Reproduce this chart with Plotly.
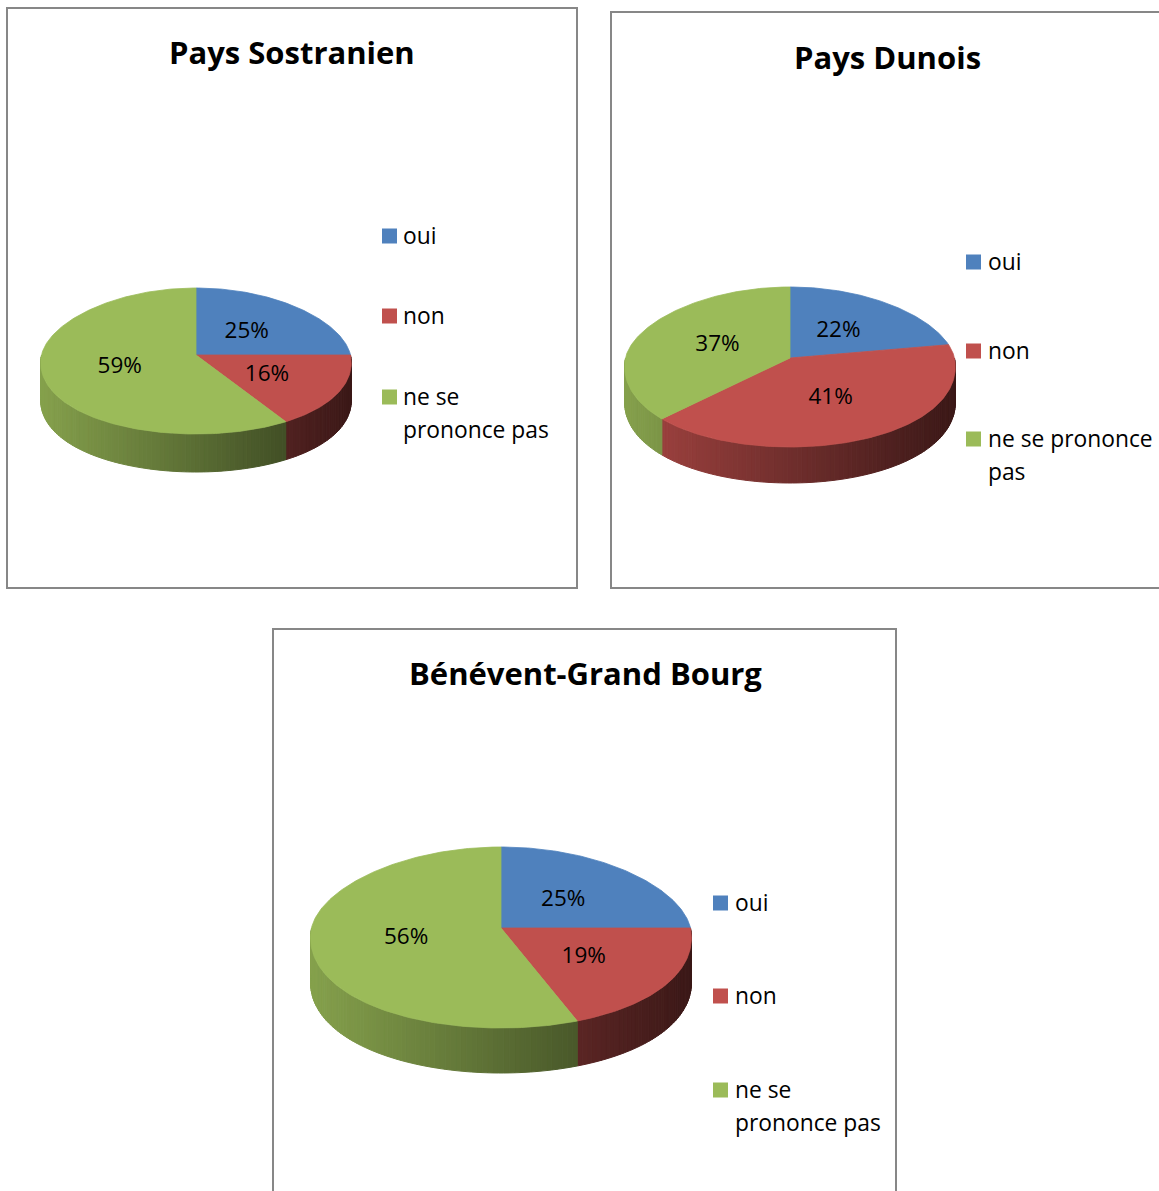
import numpy as np
import plotly.graph_objects as go

# ---------------- data ----------------
categories = ["oui", "non", "ne se prononce pas"]
titles = ["Pays Sostranien", "Pays Dunois", "Bénévent-Grand Bourg"]
vals_sostranien = [25, 16, 59]
vals_dunois = [22, 41, 37]
vals_benevent = [25, 19, 56]

colors = ["#4F81BD", "#C0504D", "#9BBB59"]

W, H = 1159, 1191
FONT = "Open Sans"
PERSP = 0.1

# ---------------- layout of each panel (pixels) ----------------
panels = [
    dict(values=vals_sostranien, title=titles[0],
         cx=196, cy=355, rx=154.5, ryt=67, ryb=79, depth=38,
         box=(7, 8, 577, 588), title_xy=(292, 52),
         leg_sq_x=389.5, leg_tx=401, leg_y=[236, 316, 397],
         wrap=[["oui"], ["non"], ["ne se", "prononce pas"]]),
    dict(values=vals_dunois, title=titles[1],
         cx=790, cy=358, rx=164.5, ryt=71, ryb=89, depth=36,
         box=(611, 12, 1170, 588), title_xy=(887, 57),
         leg_sq_x=973.5, leg_tx=986, leg_y=[262, 351, 439],
         wrap=[["oui"], ["non"], ["ne se prononce", "pas"]]),
    dict(values=vals_benevent, title=titles[2],
         cx=501, cy=928, rx=189.5, ryt=81, ryb=100, depth=45,
         box=(273, 629, 896, 1210), title_xy=(585, 673),
         leg_sq_x=720.5, leg_tx=733, leg_y=[903, 996, 1090],
         wrap=[["oui"], ["non"], ["ne se", "prononce pas"]]),
]

LINE_GAP = 33


def hex2rgb(h):
    h = h.lstrip("#")
    return tuple(int(h[i:i + 2], 16) for i in (0, 2, 4))


def ell(p, t_deg, r=1.0):
    t = np.radians(np.asarray(t_deg, dtype=float))
    s = np.sin(t)
    ry = np.where(s >= 0, p["ryt"], p["ryb"])
    x = p["cx"] + r * p["rx"] * np.cos(t) * (1 - PERSP * s)
    y = p["cy"] - r * ry * s
    return x, y


fig = go.Figure()
shapes = []
annotations = []

for p in panels:
    vals = np.array(p["values"], dtype=float)
    frac = vals / vals.sum()
    cum = np.concatenate([[0], np.cumsum(frac)])
    starts = 90 - 360 * cum[:-1]
    ends = 90 - 360 * cum[1:]

    # ---- side (front) strips with gradient ----
    left = p["cx"] - p["rx"]
    for i, (t0, t1) in enumerate(zip(starts, ends)):
        a = min(t0, 0.0)
        b = max(t1, -180.0)
        if a <= b:
            continue
        n = int(np.ceil((a - b) / 1.5)) + 1
        ts = np.linspace(a, b, n)
        base = np.array(hex2rgb(colors[i]), dtype=float)
        for k in range(n - 1):
            xa, ya = ell(p, ts[k])
            xb, yb = ell(p, ts[k + 1])
            u = ((xa + xb) / 2 - left) / (2 * p["rx"])
            f = 0.86 - 0.55 * u
            c = np.clip(base * f, 0, 255).astype(int)
            col = "rgb(%d,%d,%d)" % tuple(c)
            d = p["depth"]
            fig.add_trace(go.Scatter(
                x=[xa, xb, xb, xa, xa], y=[ya, yb, yb + d, ya + d, ya],
                mode="lines", fill="toself", fillcolor=col,
                line=dict(color=col, width=1), hoverinfo="skip", showlegend=False))

    # ---- top face slices ----
    for i, (t0, t1) in enumerate(zip(starts, ends)):
        n = int(np.ceil(abs(t0 - t1))) + 2
        ts = np.linspace(t0, t1, n)
        xs, ys = ell(p, ts)
        x = np.concatenate([[p["cx"]], xs, [p["cx"]]])
        y = np.concatenate([[p["cy"]], ys, [p["cy"]]])
        fig.add_trace(go.Scatter(
            x=x, y=y, mode="lines", fill="toself", fillcolor=colors[i],
            line=dict(color=colors[i], width=0.8), hoverinfo="skip",
            showlegend=False))

    # ---- percentage labels ----
    mids = (starts + ends) / 2
    lx, ly = ell(p, mids, r=0.5)
    fig.add_trace(go.Scatter(
        x=lx, y=ly + 1, mode="text",
        text=["%d%%" % round(v) for v in vals],
        textfont=dict(family=FONT, size=22.5, color="black"),
        hoverinfo="skip", showlegend=False))

    # ---- box ----
    x0, y0, x1, y1 = p["box"]
    shapes.append(dict(type="rect", xref="x", yref="y", x0=x0, y0=y0, x1=x1, y1=y1,
                       line=dict(color="#878787", width=2), layer="below"))

    # ---- title ----
    annotations.append(dict(x=p["title_xy"][0], y=p["title_xy"][1], xref="x", yref="y",
                            text="<b>%s</b>" % p["title"], showarrow=False,
                            xanchor="center", yanchor="middle",
                            font=dict(family=FONT, size=31, color="black")))

    # ---- legend ----
    for i, cat in enumerate(categories):
        yy = p["leg_y"][i]
        sx = p["leg_sq_x"]
        shapes.append(dict(type="rect", xref="x", yref="y",
                           x0=sx - 7.5, x1=sx + 7.5, y0=yy - 7.5, y1=yy + 7.5,
                           fillcolor=colors[i], line=dict(width=0), layer="above"))
        for j, line in enumerate(p["wrap"][i]):
            annotations.append(dict(x=p["leg_tx"], y=yy - 1 + j * LINE_GAP, xref="x", yref="y",
                                    text=line, showarrow=False,
                                    xanchor="left", yanchor="middle",
                                    font=dict(family=FONT, size=22.8, color="black")))

fig.update_layout(
    width=W, height=H,
    margin=dict(l=0, r=0, t=0, b=0),
    paper_bgcolor="white", plot_bgcolor="white",
    xaxis=dict(range=[0, W], visible=False, fixedrange=True),
    yaxis=dict(range=[H, 0], visible=False, fixedrange=True),
    shapes=shapes, annotations=annotations,
    showlegend=False,
)

fig.write_html("out.html")
